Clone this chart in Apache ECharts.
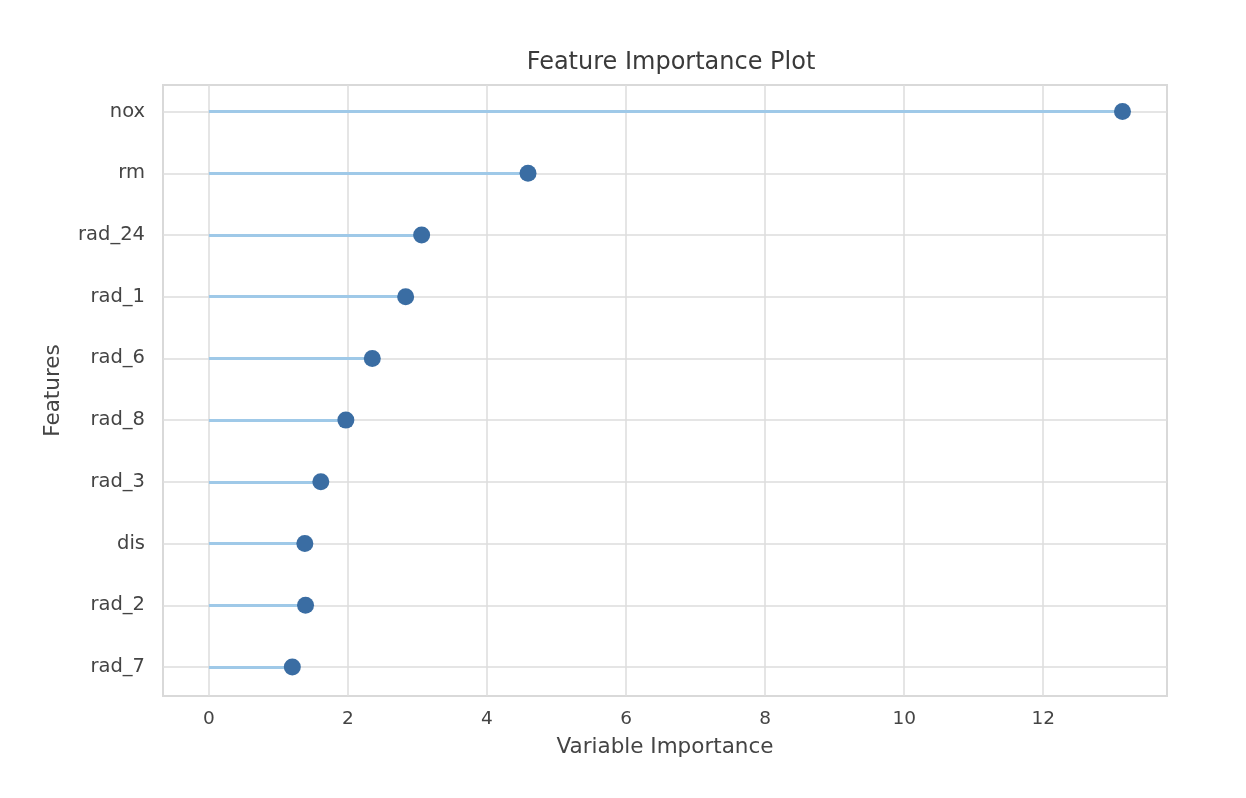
<!DOCTYPE html>
<html>
<head>
<meta charset="utf-8">
<script src="https://cdn.jsdelivr.net/npm/echarts@6/dist/echarts.min.js"></script>
<style>html,body{margin:0;padding:0;background:#fff;}#main{width:1246px;height:798px;}</style>
</head>
<body>
<div id="main"></div>
<script>
var features = ['nox', 'rm', 'rad_24', 'rad_1', 'rad_6', 'rad_8', 'rad_3', 'dis', 'rad_2', 'rad_7'];
var importance = [13.14, 4.59, 3.06, 2.83, 2.35, 1.97, 1.61, 1.38, 1.39, 1.20];
var xTicks = [0, 2, 4, 6, 8, 10, 12];
var yPositions = features.map(function (f, i) { return i; });

var font = 'DejaVu Sans, sans-serif';
var chart = echarts.init(document.getElementById('main'), null, {renderer: 'canvas'});
chart.setOption({
  backgroundColor: '#ffffff',
  animation: false,
  title: {
    text: 'Feature Importance Plot',
    left: 666, top: 46, textAlign: 'center',
    textStyle: {fontFamily: font, fontSize: 24, fontWeight: 'normal', color: '#3a3a3a'}
  },
  grid: {left: 163, right: 79, top: 85, bottom: 102, show: true, borderColor: '#d9d9d9', borderWidth: 2, containLabel: false},
  xAxis: {
    type: 'value', min: -0.66, max: 13.78,
    name: 'Variable Importance', nameLocation: 'middle', nameGap: 40,
    nameTextStyle: {fontFamily: font, fontSize: 21.5, color: '#444'},
    axisLine: {show: false},
    axisTick: {show: false, customValues: xTicks},
    axisLabel: {fontFamily: font, fontSize: 18.5, color: '#444', margin: 14, customValues: xTicks},
    splitLine: {show: true, lineStyle: {color: '#dcdcdc', width: 1.5}}
  },
  yAxis: {
    type: 'value', inverse: true, min: -0.43, max: 9.47,
    name: 'Features', nameLocation: 'middle', nameGap: 99, nameRotate: 90,
    nameTextStyle: {fontFamily: font, fontSize: 21.5, color: '#444'},
    axisLine: {show: false},
    axisTick: {show: false, customValues: yPositions},
    axisLabel: {fontFamily: font, fontSize: 19.5, color: '#444', margin: 18, customValues: yPositions,
      formatter: function (v) { return features[Math.round(v)] || ''; }},
    splitLine: {show: true, lineStyle: {color: '#dcdcdc', width: 1.5}}
  },
  series: [
    {
      type: 'lines', coordinateSystem: 'cartesian2d', z: 2, silent: true,
      lineStyle: {color: '#9fc9e8', width: 3, opacity: 1},
      data: importance.map(function (v, i) { return {coords: [[0, i], [v, i]]}; })
    },
    {
      type: 'scatter', data: importance.map(function (v, i) { return [v, i]; }),
      symbol: 'circle', symbolSize: 17, z: 3,
      itemStyle: {color: '#3a6da3', opacity: 1}
    }
  ]
});
</script>
</body>
</html>
